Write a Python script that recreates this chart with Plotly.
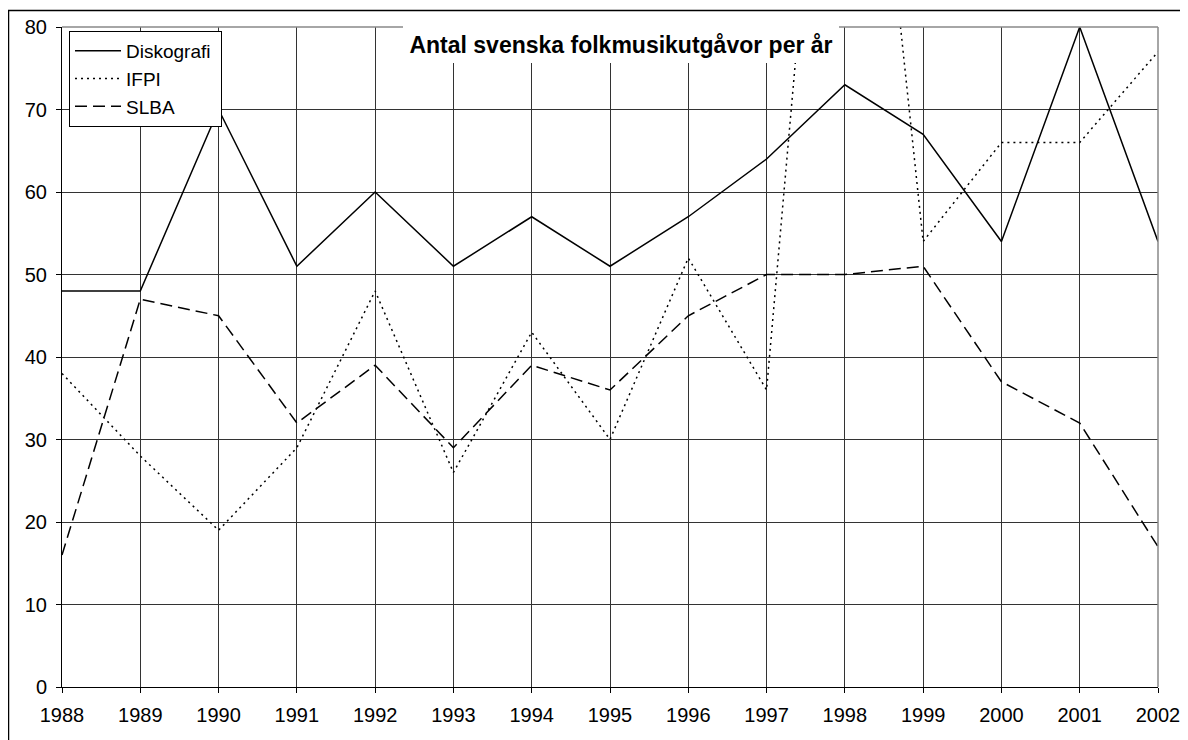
import plotly.graph_objects as go

years = list(range(1988, 2003))
diskografi = [48, 48, 70, 51, 60, 51, 57, 51, 57, 64, 73, 67, 54, 80, 54]
ifpi = [38, 28, 19, 29, 48, 26, 43, 30, 52, 36, 144, 54, 66, 66, 77]
slba = [16, 47, 45, 32, 39, 29, 39, 36, 45, 50, 50, 51, 37, 32, 17]
series_names = ["Diskografi", "IFPI", "SLBA"]
title_text = "Antal svenska folkmusikutgåvor per år"
y_ticks = list(range(0, 90, 10))

FONT = "Liberation Sans, Arial, sans-serif"
NB = "\u00a0"

# page body has an 8px margin; coordinates below are in reference-image pixels
OFF = 8
W, H = 1188 - OFF, 740 - OFF
L, R, T, B = 62 - OFF, 1158 - OFF, 27 - OFF, 687 - OFF
pw, ph = R - L, B - T

def px(x):
    return (x - OFF - L) / pw

def py(y):
    return (B - (y - OFF)) / ph

fig = go.Figure()
fig.add_trace(go.Scatter(x=years, y=diskografi, name=series_names[0] + NB, mode="lines",
                         line=dict(color="black", width=1.5)))
fig.add_trace(go.Scatter(x=years, y=ifpi, name=series_names[1], mode="lines",
                         line=dict(color="black", width=1.5, dash="2px,4px")))
fig.add_trace(go.Scatter(x=years, y=slba, name=series_names[2], mode="lines",
                         line=dict(color="black", width=1.5, dash="12px,6px")))

fig.update_layout(
    width=W, height=H,
    margin=dict(l=L, r=W - R, t=T, b=H - B, pad=0, autoexpand=False),
    paper_bgcolor="white", plot_bgcolor="white",
    font=dict(family=FONT, size=20, color="black"),
    showlegend=True,
    legend=dict(x=px(69), y=py(31), xanchor="left", yanchor="top",
                bgcolor="white", bordercolor="black", borderwidth=1,
                font=dict(size=19), traceorder="normal", itemwidth=46),
    xaxis=dict(range=[1988, 2002], tickvals=years, ticktext=[str(y) for y in years],
               showgrid=True, gridcolor="#333333", gridwidth=1,
               showline=True, linecolor="black", linewidth=1,
               ticks="outside", ticklen=5, tickcolor="black", zeroline=False,
               ticklabelstandoff=5, tickfont=dict(size=20)),
    yaxis=dict(range=[0, 80], tickvals=y_ticks,
               showgrid=True, gridcolor="#333333", gridwidth=1,
               showline=True, linecolor="black", linewidth=1,
               ticks="outside", ticklen=5, tickcolor="black", zeroline=False,
               ticklabelstandoff=5, tickfont=dict(size=20)),
)

# plot-area top/right border (gray)
fig.add_shape(type="line", xref="paper", yref="paper", x0=0, x1=1, y0=1, y1=1,
              line=dict(color="#888888", width=1.5), layer="above")
fig.add_shape(type="line", xref="paper", yref="paper", x0=1, x1=1, y0=0, y1=1,
              line=dict(color="#888888", width=1.5), layer="above")
# outer chart frame
fig.add_shape(type="rect", xref="paper", yref="paper",
              x0=px(8.5), x1=px(1186.5), y0=py(760), y1=py(10.5),
              line=dict(color="black", width=1.5), fillcolor="rgba(0,0,0,0)", layer="above")

fig.add_annotation(text="<b>" + title_text + "</b>", xref="paper", yref="paper",
                   x=px(620.5), y=py(44.5), xanchor="center", yanchor="middle",
                   showarrow=False, bgcolor="white", borderpad=2, borderwidth=0,
                   width=432, height=33, font=dict(size=23, family=FONT, color="black"))

fig.write_html("out.html")
